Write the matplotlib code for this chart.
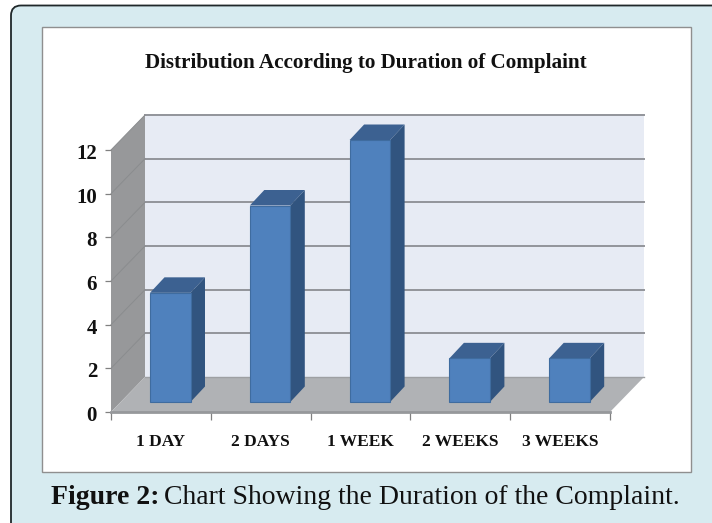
import matplotlib
matplotlib.use("Agg")
import matplotlib.pyplot as plt
from matplotlib.patches import Polygon, Rectangle, FancyBboxPatch
from matplotlib.transforms import ScaledTranslation

categories = ["1 DAY", "2 DAYS", "1 WEEK", "2 WEEKS", "3 WEEKS"]
values = [5, 9, 12, 2, 2]
y_ticks = [0, 2, 4, 6, 8, 10, 12]
title = "Distribution According to Duration of Complaint"
cap_bold = "Figure 2:"
cap_rest = "Chart Showing the Duration of the Complaint."

W, H = 712, 523
fig = plt.figure(figsize=(W / 100, H / 100), dpi=100, facecolor="white")

# page layer in pixel coordinates
bg = fig.add_axes([0, 0, 1, 1])
bg.set_xlim(0, W); bg.set_ylim(H, 0); bg.axis("off")
bg.add_patch(FancyBboxPatch((11, 5.5), W + 40, H + 40, boxstyle="round,pad=0,rounding_size=10",
                            fc="#D7EBF0", ec="#20282a", lw=1.3))
bg.add_patch(Rectangle((41.5, 27), 649.5, 445, fc="white", ec="#8f8f8f", lw=1))
bg.text(366, 63, title, ha="center", va="center", family="Liberation Serif",
        weight="bold", fontsize=15.2, color="#111111")
CAP = 20
t1 = bg.text(51, 497, cap_bold, ha="left", va="center", family="Liberation Serif",
             weight="bold", fontsize=CAP, color="#111111")
fig.canvas.draw()
bb = t1.get_window_extent()
bg.text(bb.x1 + 5, 497, cap_rest, ha="left", va="center", family="Liberation Serif",
        fontsize=CAP, color="#111111")

# chart axes: the front plane of the 3-D box
x0, x1, y0, y1 = 111, 610, 412, 150
ax = fig.add_axes([x0 / W, 1 - y0 / H, (x1 - x0) / W, (y0 - y1) / H])
ax.patch.set_visible(False)
ax.set_xlim(0, len(categories))
ax.set_ylim(0, y_ticks[-1])
ux = (x1 - x0) / len(categories)   # px per category
uy = (y0 - y1) / y_ticks[-1]       # px per value
dx, dy = 34 / ux, 35 / uy          # box depth in data units
n, top = len(categories), y_ticks[-1]

def poly(pts, fc, ec="none", lw=0, z=1):
    ax.add_patch(Polygon(pts, closed=True, fc=fc, ec=ec, lw=lw, zorder=z, clip_on=False))

poly([(dx, dy), (n + dx, dy), (n + dx, top + dy), (dx, top + dy)], "#E7EBF4")
poly([(0, 0), (dx, dy), (dx, top + dy), (0, top)], "#97989A")
poly([(0, 0), (n, 0), (n + dx, dy), (dx, dy)], "#B0B2B5")
for v in y_ticks[1:]:
    ax.plot([dx, n + dx], [v + dy, v + dy], color="#92949A", lw=1.4, zorder=2, clip_on=False)
    ax.plot([0, dx], [v, v + dy], color="#8A8C8E", lw=0.7, zorder=2, clip_on=False)
ax.plot([dx, n + dx], [dy, dy], color="#9EA0A3", lw=1, zorder=2, clip_on=False)
ax.plot([0, n], [0, 0], color="#96989B", lw=2, zorder=2, clip_on=False)

# bars
bw = 40.5 / ux
ox, oy = 39 / ux, 10 / uy          # offset of bar front from the box front
ddx, ddy = 14.5 / ux, 15.5 / uy    # bar depth
for i, v in enumerate(values):
    l, r = i + ox, i + ox + bw
    b, t = oy, oy + v
    poly([(l, b), (r, b), (r, t), (l, t)], "#4F81BD", "#3F6C9F", 0.8, 4)
    poly([(l, t), (r, t), (r + ddx, t + ddy), (l + ddx, t + ddy)], "#3C6191", z=3)
    poly([(r, b), (r + ddx, b + ddy), (r + ddx, t + ddy), (r, t)], "#31547F", z=3)

for s in ax.spines.values():
    s.set_visible(False)
ax.set_yticks(y_ticks)
ax.set_xticks(range(n + 1))
ax.set_xticks([i + 0.5 for i in range(n)], minor=True)
ax.set_xticklabels([""] * (n + 1))
ax.set_xticklabels(categories, minor=True, family="Liberation Serif", weight="bold",
                   fontsize=12.5, color="#111111")
ax.set_yticklabels([str(v) for v in y_ticks], family="Liberation Serif", weight="bold",
                   fontsize=15, color="#111111")
ax.tick_params(axis="x", which="major", length=6, width=0.9, color="#808080")
ax.tick_params(axis="x", which="minor", length=0, pad=16)
ax.tick_params(axis="y", length=4, width=0.9, color="#808080", pad=6)
shift = ScaledTranslation(0, -1.5 / 100, fig.dpi_scale_trans)
for lab in ax.get_yticklabels():
    lab.set_transform(lab.get_transform() + shift)

fig.savefig("out.png", dpi=100)
